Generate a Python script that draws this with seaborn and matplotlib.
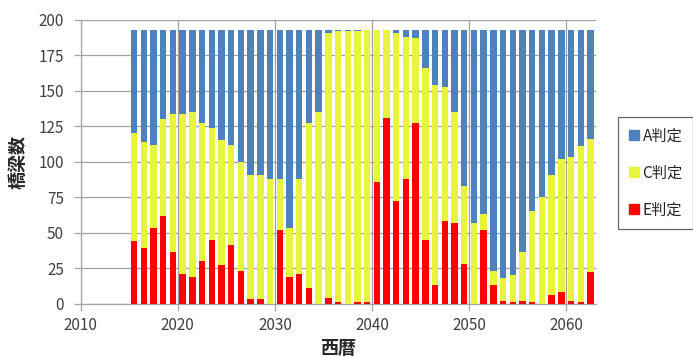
import numpy as np
import pandas as pd
import matplotlib
matplotlib.use("Agg")
import matplotlib.pyplot as plt
from matplotlib.lines import Line2D
import seaborn as sns

years = list(range(2015, 2063))
a_counts = [73, 79, 81, 63, 59, 59, 58, 66, 69, 78,
            81, 93, 102, 102, 105, 105, 140, 105, 66, 58,
            2, 1, 1, 1, 0, 0, 0, 2, 5, 6,
            27, 39, 40, 58, 110, 136, 130, 170, 175, 173,
            157, 128, 118, 102, 91, 90, 82, 77]
c_counts = [76, 75, 59, 68, 98, 113, 116, 97, 79, 88,
            71, 77, 88, 88, 88, 36, 34, 67, 116, 135,
            187, 191, 192, 191, 192, 107, 62, 119, 100, 60,
            121, 141, 95, 78, 55, 57, 11, 10, 16, 19,
            34, 64, 75, 85, 94, 101, 110, 94]
e_counts = [44, 39, 53, 62, 36, 21, 19, 30, 45, 27,
            41, 23, 3, 3, 0, 52, 19, 21, 11, 0,
            4, 1, 0, 1, 1, 86, 131, 72, 88, 127,
            45, 13, 58, 57, 28, 0, 52, 13, 2, 1,
            2, 1, 0, 6, 8, 2, 1, 22]
labels = ["A判定", "C判定", "E判定"]
colors = ["#4F81BD", "#E8F53A", "#FF0000"]
y_ticks = [0, 25, 50, 75, 100, 125, 150, 175, 200]
x_ticks = [2010, 2020, 2030, 2040, 2050, 2060]

df = pd.DataFrame({
    "year": years * 3,
    "count": a_counts + c_counts + e_counts,
    "判定": [labels[0]] * len(years) + [labels[1]] * len(years) + [labels[2]] * len(years),
})

sns.set_theme(style="white")
plt.rcParams["font.family"] = ["Noto Sans CJK JP", "DejaVu Sans"]

fig = plt.figure(figsize=(6.93, 3.58), dpi=100)
ax = fig.add_axes([80.7 / 693, 1 - 303.5 / 358, (596 - 80.7) / 693, (303.5 - 20) / 358])

palette = dict(zip(labels, colors))
# seaborn stacks the last hue level at the bottom
sns.histplot(data=df, x="year", weights="count", hue="判定",
             hue_order=labels, palette=palette,
             multiple="stack", binwidth=1, binrange=(years[0], years[-1] + 1),
             shrink=0.66, alpha=1, linewidth=0, legend=False, ax=ax, zorder=3)

ax.set_xlim(2010, 2063.07)
ax.set_ylim(0, 200)
ax.set_yticks(y_ticks)
ax.set_xticks(x_ticks)
ax.grid(True, color="#a0a0a0", linewidth=0.9, zorder=0)
ax.set_axisbelow(True)
for s in ["top", "right"]:
    ax.spines[s].set_visible(False)
for s in ["left", "bottom"]:
    ax.spines[s].set_color("#a6a6a6")
    ax.spines[s].set_linewidth(0.9)
ax.tick_params(axis="both", which="major", length=5, width=0.9, color="#a6a6a6",
               labelsize=11, labelcolor="#404040", direction="out",
               left=True, bottom=True)
ax.tick_params(axis="y", pad=7)
ax.tick_params(axis="x", pad=5)

ax.set_ylabel("橋梁数", fontsize=13, fontweight="bold", labelpad=8)
ax.set_xlabel("西暦", fontsize=13, fontweight="bold", labelpad=3)

handles = [Line2D([0], [0], marker="s", linestyle="none", markersize=7,
                  markerfacecolor=c, markeredgecolor=c) for c in colors]
leg = fig.legend(handles, labels, loc="center left",
                 bbox_to_anchor=(618 / 693, 1 - 173 / 358),
                 frameon=True, fontsize=11, handlelength=0.7,
                 handletextpad=0.2, labelspacing=1.3, borderpad=0.7,
                 borderaxespad=0, fancybox=False)
leg.get_frame().set_edgecolor("#404040")
leg.get_frame().set_linewidth(0.9)

fig.savefig("out.png", dpi=100)
